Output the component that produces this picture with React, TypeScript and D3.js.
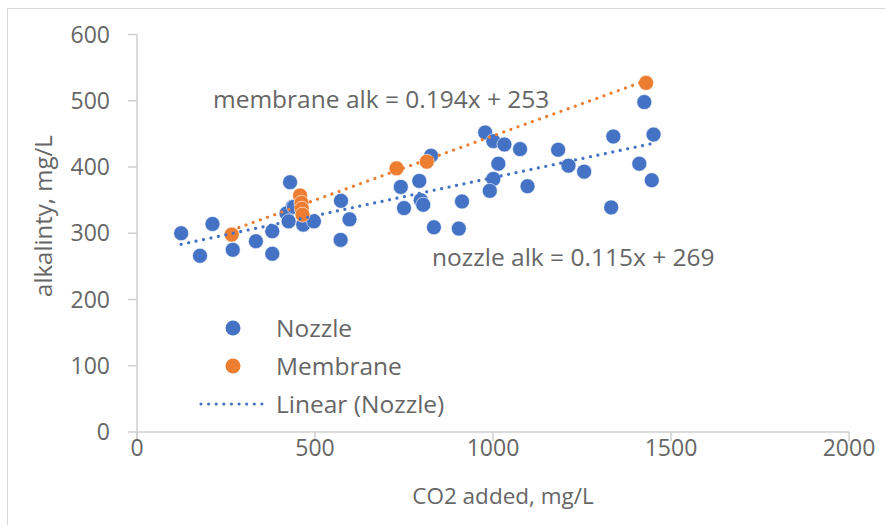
import React from 'react';
import * as d3 from 'd3';

// CO2 added (mg/L) vs alkalinity (mg/L)
const nozzleX = [124, 177, 212, 269, 334, 380, 380, 430, 437, 420, 426, 441, 467, 497, 573, 597, 572, 741, 793, 750, 797, 804, 913, 834, 904, 826, 978, 1001, 1032, 1076, 1183, 1212, 1015, 1001, 991, 1097, 1256, 1332, 1338, 1425, 1451, 1411, 1446];
const nozzleY = [300, 266, 314, 275, 288, 303, 269, 377, 340, 330, 318, 340, 313, 318, 349, 321, 290, 370, 379, 338, 350, 343, 348, 309, 307, 417, 452, 439, 434, 427, 426, 402, 405, 382, 364, 371, 393, 339, 446, 498, 449, 405, 380];
const membraneX = [266, 458, 462, 463, 465, 729, 814, 1430];
const membraneY = [298, 357, 346, 337, 328, 398, 408, 527];

// trendline coefficients [slope, intercept]
const nozzleFit = [0.115, 269];
const membraneFit = [0.194, 253];

const xTicks = [0, 500, 1000, 1500, 2000];
const yTicks = [0, 100, 200, 300, 400, 500, 600];

const BLUE = '#4472C4';
const ORANGE = '#ED7D31';
const GRAY = '#666666';
const AXIS = '#CFCFCF';
const FONT = "'Open Sans', sans-serif";

const App: React.FC = () => {
  const width = 885;
  const height = 525;

  const x = d3.scaleLinear().domain([0, 2000]).range([137, 849]);
  const y = d3.scaleLinear().domain([0, 600]).range([432, 34.5]);

  const line = d3.line<[number, number]>().x(d => x(d[0])).y(d => y(d[1]));

  const fitPts = (xs: number[], fit: number[]): [number, number][] => {
    const [lo, hi] = d3.extent(xs) as [number, number];
    return [[lo, fit[0] * lo + fit[1]], [hi, fit[0] * hi + fit[1]]];
  };

  const nozzle = nozzleX.map((v, i) => [v, nozzleY[i]]);
  const membrane = membraneX.map((v, i) => [v, membraneY[i]]);

  const dots = '0.01 7.6';

  return (
    <svg width={width} height={height} style={{ position: 'absolute', left: 0, top: 0, background: '#fff' }}
      fontFamily={FONT}>
      <rect x={7.5} y={8.5} width={width + 20} height={height + 20} fill="#fff" stroke="#D9D9D9" />

      {/* axes */}
      <line x1={x(0)} x2={x(0)} y1={y(600)} y2={y(0) + 9} stroke={AXIS} strokeWidth={1.5} />
      <line x1={x(0)} x2={x(2000)} y1={y(0)} y2={y(0)} stroke={AXIS} strokeWidth={1.5} />
      {yTicks.map(t => (
        <g key={'y' + t}>
          <line x1={x(0) - 9} x2={x(0)} y1={y(t)} y2={y(t)} stroke={AXIS} strokeWidth={1.5} />
          <text x={110} y={y(t)} dy="0.35em" textAnchor="end" fontSize={23} fill={GRAY}>{t}</text>
        </g>
      ))}
      {xTicks.map(t => (
        <g key={'x' + t}>
          <line x1={x(t)} x2={x(t)} y1={y(0)} y2={y(0) + 9} stroke={AXIS} strokeWidth={1.5} />
          <text x={x(t)} y={456} textAnchor="middle" fontSize={23} fill={GRAY}>{t}</text>
        </g>
      ))}
      <text x={503} y={504} textAnchor="middle" fontSize={22.5} fill={GRAY}>CO2 added, mg/L</text>
      <text transform="translate(52,216) rotate(-90)" textAnchor="middle" fontSize={24} fill={GRAY}>alkalinty, mg/L</text>

      {/* points */}
      {nozzle.map((d, i) => (
        <circle key={'n' + i} cx={x(d[0])} cy={y(d[1])} r={7.5} fill={BLUE} stroke="#fff" strokeWidth={0.6} />
      ))}
      {membrane.map((d, i) => (
        <circle key={'m' + i} cx={x(d[0])} cy={y(d[1])} r={7.5} fill={ORANGE} stroke="#fff" strokeWidth={0.6} />
      ))}

      {/* trendlines */}
      <path d={line(fitPts(nozzleX, nozzleFit)) || ''} fill="none" stroke={BLUE} strokeWidth={3.2}
        strokeLinecap="round" strokeDasharray={dots} />
      <path d={line(fitPts(membraneX, membraneFit)) || ''} fill="none" stroke={ORANGE} strokeWidth={3.2}
        strokeLinecap="round" strokeDasharray={dots} />

      {/* equation labels */}
      <text x={213} y={108} fontSize={24.5} fill={GRAY}>membrane alk = {membraneFit[0]}x + {membraneFit[1]}</text>
      <text x={432} y={266} fontSize={24.5} fill={GRAY}>nozzle alk = {nozzleFit[0]}x + {nozzleFit[1]}</text>

      {/* legend */}
      <circle cx={233} cy={328} r={7.5} fill={BLUE} />
      <text x={276} y={328} dy="0.35em" fontSize={24.5} fill={GRAY}>Nozzle</text>
      <circle cx={233} cy={366} r={7.5} fill={ORANGE} />
      <text x={276} y={366} dy="0.35em" fontSize={24.5} fill={GRAY}>Membrane</text>
      <line x1={201} x2={266} y1={404} y2={404} stroke={BLUE} strokeWidth={3.2} strokeLinecap="round" strokeDasharray={dots} />
      <text x={276} y={404} dy="0.35em" fontSize={24.5} fill={GRAY}>Linear (Nozzle)</text>
    </svg>
  );
};

export default App;
